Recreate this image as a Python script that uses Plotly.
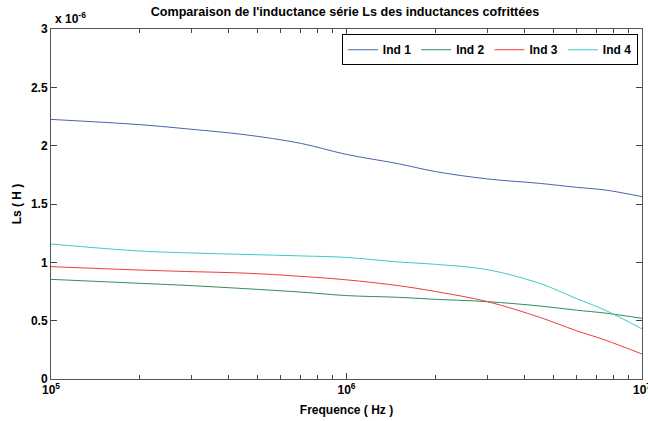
import plotly.graph_objects as go

# Frequencies (Hz)
freq = [1e5, 2e5, 3e5, 4.5e5, 7e5, 1e6, 1.5e6, 2e6, 3e6, 4.5e6, 6e6, 7.5e6, 1e7]
# Series inductance Ls in units of 1e-6 H
ind1 = [2.225, 2.18, 2.14, 2.095, 2.02, 1.925, 1.845, 1.778, 1.715, 1.677, 1.643, 1.62, 1.563]
ind2 = [0.854, 0.82, 0.80, 0.775, 0.745, 0.715, 0.70, 0.683, 0.663, 0.626, 0.59, 0.565, 0.52]
ind3 = [0.963, 0.934, 0.92, 0.908, 0.88, 0.85, 0.80, 0.75, 0.663, 0.529, 0.414, 0.334, 0.214]
ind4 = [1.157, 1.097, 1.08, 1.068, 1.055, 1.042, 1.003, 0.983, 0.937, 0.82, 0.69, 0.59, 0.43]

names = ["Ind 1", "Ind 2", "Ind 3", "Ind 4"]
series = [ind1, ind2, ind3, ind4]
colors = ["#4a62b0", "#2f8f5a", "#ee3b3b", "#40c8c8"]

yticks = [0, 0.5, 1, 1.5, 2, 2.5, 3]
ytext = ["0", "0.5", "1", "1.5", "2", "2.5", "3"]
xticks = [1e5, 1e6, 1e7]
xtext = ["10<sup>5</sup>", "10<sup>6</sup>", "10<sup>7</sup>"]

FONT = "Liberation Sans, Arial, sans-serif"

fig = go.Figure()
for n, s, c in zip(names, series, colors):
    fig.add_trace(go.Scatter(x=freq, y=s, mode="lines", name=n,
                             line=dict(color=c, width=1, shape="spline", smoothing=1.0)))

fig.update_layout(
    width=648, height=421,
    margin=dict(l=51, r=6, t=29, b=42, autoexpand=False),
    paper_bgcolor="white", plot_bgcolor="white",
    font=dict(family=FONT, size=12, color="black"),
    title=dict(text="<b>Comparaison de l'inductance série Ls des inductances cofrittées</b>",
               x=(51 + 294) / 648, xanchor="center", y=1 - 12 / 421, yanchor="middle",
               font=dict(size=12.6), automargin=False),
    showlegend=True,
    legend=dict(orientation="h", x=0.993, xanchor="right", y=0.985, yanchor="top",
                bgcolor="white", bordercolor="black", borderwidth=1,
                font=dict(size=12, weight="bold"), itemwidth=30,
                tracegroupgap=0),
)

fig.update_xaxes(
    type="log", range=[5, 7], automargin=False,
    tickvals=xticks, ticktext=xtext, ticklabeloverflow="allow",
    ticks="inside", ticklen=6, tickcolor="#444",
    showline=True, linecolor="#555", linewidth=1, mirror="ticks",
    showgrid=False, zeroline=False,
    tickfont=dict(size=12, weight="bold"),
    minor=dict(ticks="inside", ticklen=4, tickcolor="#444", dtick="D1", showgrid=False),
    title=dict(text="<b>Frequence ( Hz )</b>", font=dict(size=12), standoff=9),
)
fig.update_yaxes(
    range=[0, 3], tickvals=yticks, ticktext=ytext, automargin=False,
    ticks="inside", ticklen=6, tickcolor="#444",
    showline=True, linecolor="#555", linewidth=1, mirror="ticks",
    showgrid=False, zeroline=False,
    tickfont=dict(size=12, weight="bold"),
    title=dict(text="<b>Ls ( H )</b>", font=dict(size=12), standoff=6),
)

fig.add_annotation(text="<b>x 10<sup>-6</sup></b>", xref="paper", yref="paper",
                   x=0.0, y=1.0, xanchor="left", yanchor="bottom", showarrow=False,
                   font=dict(size=12), xshift=2, yshift=1)

fig.write_html("out.html", config={"displayModeBar": False},
               post_script="document.body.style.margin='0';document.body.style.overflow='hidden';")
